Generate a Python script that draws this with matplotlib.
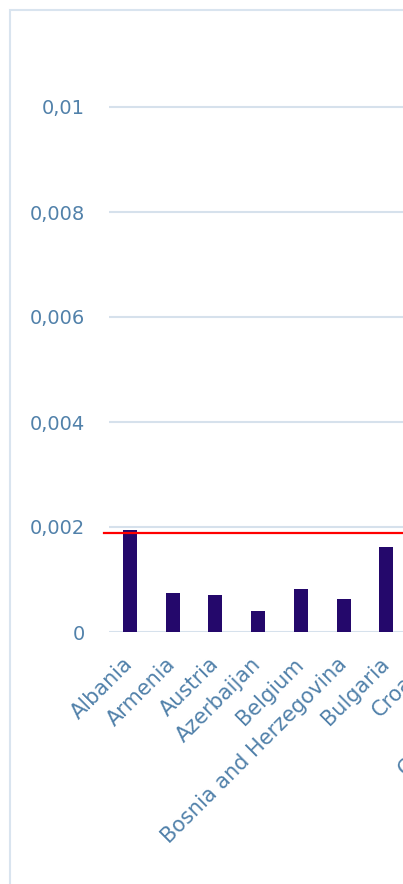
import matplotlib
matplotlib.use("Agg")
import matplotlib.pyplot as plt
import numpy as np
from matplotlib.patches import Rectangle

# ---- data ----
countries = ["Albania", "Armenia", "Austria", "Azerbaijan", "Belgium",
             "Bosnia and Herzegovina", "Bulgaria", "Croatia", "Cyprus",
             "Czech Republic"]
# values for categories outside the visible crop are unknown (NaN)
values = [0.00194, 0.00074, 0.00070, 0.00040, 0.00082,
          0.00063, 0.00162, np.nan, np.nan, np.nan]
reference_value = 0.00189
y_ticks = [0, 0.002, 0.004, 0.006, 0.008, 0.01]
y_tick_labels = ["0", "0,002", "0,004", "0,006", "0,008", "0,01"]

# ---- style ----
text_color = "#5181aa"
bar_color = "#24086b"
grid_color = "#d6e1ec"
frame_color = "#d9e4ef"

W, H = 403, 884
fig = plt.figure(figsize=(W / 100, H / 100), dpi=100)

n = len(countries)
spacing = 42.7
left_px, bottom_px = 108.7, 632
px_per_unit = 52.5 / 0.001
ymax = 0.011
ax_w = n * spacing
ax_h = ymax * px_per_unit
ax = fig.add_axes([left_px / W, 1 - bottom_px / H, ax_w / W, ax_h / H])

x = np.arange(n)
ax.bar(x, values, width=0.33, color=bar_color, zorder=3)
ax.set_xlim(-0.5, n - 0.5)
ax.set_ylim(0, ymax)

ax.axhline(reference_value, xmin=-0.011, xmax=1, color="#ff0000",
           linewidth=1.6, zorder=4, clip_on=False)

ax.set_yticks(y_ticks)
ax.set_yticklabels(y_tick_labels)
ax.yaxis.grid(True, color=grid_color, linewidth=1.5, zorder=0)
ax.set_axisbelow(True)
for s in ax.spines.values():
    s.set_visible(False)
ax.tick_params(axis="y", length=0, pad=17, labelsize=14, labelcolor=text_color)
ax.tick_params(axis="x", length=0, pad=21, labelsize=15, labelcolor=text_color)
ax.set_xticks(x)
ax.set_xticklabels(countries, rotation=45, ha="right", va="center",
                   rotation_mode="anchor")

# outer frame of the chart area
fig.patches.append(Rectangle((10 / W, -0.1), 1.2, (1 - 10 / H) + 0.1,
                             transform=fig.transFigure, fill=False,
                             edgecolor=frame_color, linewidth=1.5))

fig.savefig("out.png", dpi=100)
